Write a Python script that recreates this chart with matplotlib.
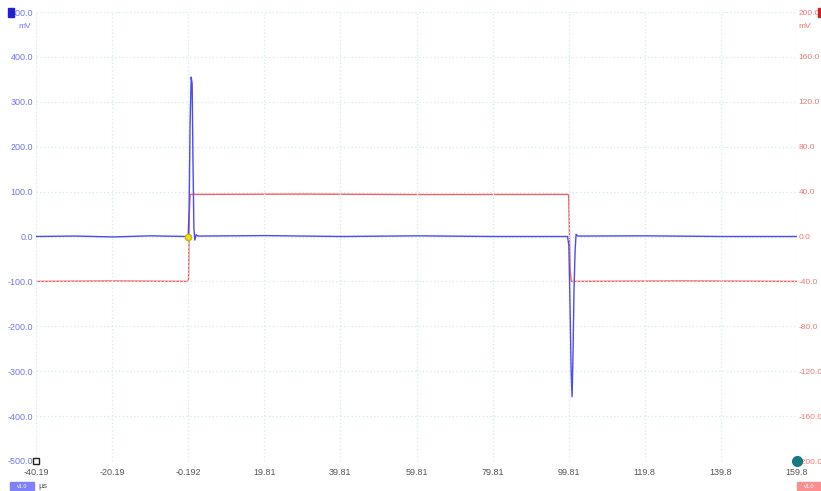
import matplotlib.pyplot as plt
import matplotlib.patches as mpatches

plt.rcParams['font.family'] = ['Liberation Sans', 'DejaVu Sans']

# channel A (left axis, mV) - time in us
t_a = [-40.19, -30.0, -20.0, -10.0, -0.6, -0.2, 0.05, 0.3, 0.6, 0.85, 1.05, 1.3, 1.55, 1.9, 2.4,
       20.0, 40.0, 60.0, 80.0, 99.5, 99.85, 100.15, 100.45, 100.7, 100.95, 101.2, 101.5, 101.75,
       102.2, 120.0, 140.0, 159.81]
v_a = [0.0, 1.0, -1.0, 1.5, 0.0, -3.0, 60.0, 250.0, 355.0, 340.0, 180.0, 20.0, -8.0, 4.0, 1.0,
       2.0, 0.0, 1.5, 0.0, 0.0, -20.0, -150.0, -300.0, -357.0, -260.0, -120.0, -30.0, 5.0,
       1.0, 1.5, 0.0, 0.0]

# channel B (right axis, mV)
t_b = [-40.19, -20.0, -0.3, -0.1, 0.1, 0.3, 30.0, 60.0, 99.6, 99.8, 100.2, 100.5, 130.0, 159.81]
v_b = [-40.0, -39.6, -40.0, -38.0, 20.0, 37.5, 37.8, 37.4, 37.5, 37.0, -30.0, -40.0, -39.6, -40.0]

xticks = [-40.19, -20.19, -0.192, 19.81, 39.81, 59.81, 79.81, 99.81, 119.8, 139.8, 159.8]
left_ticks = [500, 400, 300, 200, 100, 0, -100, -200, -300, -400, -500]
right_ticks = [200, 160, 120, 80, 40, 0, -40, -80, -120, -160, -200]

W, H = 821, 491
fig = plt.figure(figsize=(W / 100, H / 100), dpi=100)
ax = fig.add_axes([36 / W, 30 / H, 761 / W, 449 / H])
ax2 = ax.twinx()

blue = '#4c4cee'
red = '#f06060'
grid_c = '#d3e9ee'

ax.plot(t_a, v_a, color=blue, lw=1.0, zorder=3)
ax2.plot(t_b, v_b, color=red, lw=1.0, zorder=2)
ax.set_zorder(ax2.get_zorder() + 1)
ax.patch.set_visible(False)

ax.set_xlim(-40.19, 159.81)
ax.set_ylim(-500, 500)
ax2.set_ylim(-200, 200)

ax.set_xticks(xticks)
ax.set_xticklabels([f'{v:g}' if abs(v) >= 100 else f'{v}' for v in xticks])
ax.set_yticks(left_ticks)
ax.set_yticklabels([f'{v:.1f}' for v in left_ticks])
ax2.set_yticks(right_ticks)
ax2.set_yticklabels([f'{v:.1f}' for v in right_ticks])

ax.grid(True, color=grid_c, linestyle=(0, (1, 2)), linewidth=0.9)
for a in (ax, ax2):
    for s in a.spines.values():
        s.set_visible(False)
ax.tick_params(axis='x', length=0, pad=5, labelsize=6.5, labelcolor='#555555')
ax.tick_params(axis='y', length=0, pad=2, labelsize=6.5, labelcolor='#7575f0')
ax2.tick_params(axis='y', length=0, pad=1, labelsize=6, labelcolor='#f07575')

# units and channel markers
fig.text(25 / W, 1 - 26 / H, 'mV', fontsize=6, color='#7575f0', ha='center', va='center')
fig.text(805 / W, 1 - 26 / H, 'mV', fontsize=6, color='#f07575', ha='center', va='center')
fig.text(38 / W, 1 - 487 / H, 'µs', fontsize=6, color='#555555', ha='left', va='center')
fig.patches.append(mpatches.Rectangle((8 / W, 1 - 17 / H), 6 / W, 9 / H, color='#2020d0',
                                      transform=fig.transFigure, figure=fig))
fig.patches.append(mpatches.Rectangle((818 / W, 1 - 17 / H), 4 / W, 9 / H, color='#d02020',
                                      transform=fig.transFigure, figure=fig))
fig.patches.append(mpatches.Rectangle((10 / W, 0), 24 / W, 9 / H, color='#8080f8',
                                      transform=fig.transFigure, figure=fig))
fig.patches.append(mpatches.Rectangle((797 / W, 0), 24 / W, 9 / H, color='#f89090',
                                      transform=fig.transFigure, figure=fig))
fig.text(22 / W, 4.5 / H, 'v1.0', fontsize=4, color='white', ha='center', va='center')
fig.text(809 / W, 4.5 / H, 'v1.0', fontsize=4, color='white', ha='center', va='center')

ax.plot([-0.192], [0], marker='o', ms=4.5, color='#f0e020', mec='#c8b800', zorder=5, clip_on=False)
ax.plot([-40.19], [-500], marker='s', ms=5, mfc='white', mec='#202020', mew=1, zorder=5, clip_on=False)
ax.plot([159.81], [-500], marker='o', ms=7, color='#157a80', zorder=5, clip_on=False)

fig.savefig('out.png', dpi=100)
